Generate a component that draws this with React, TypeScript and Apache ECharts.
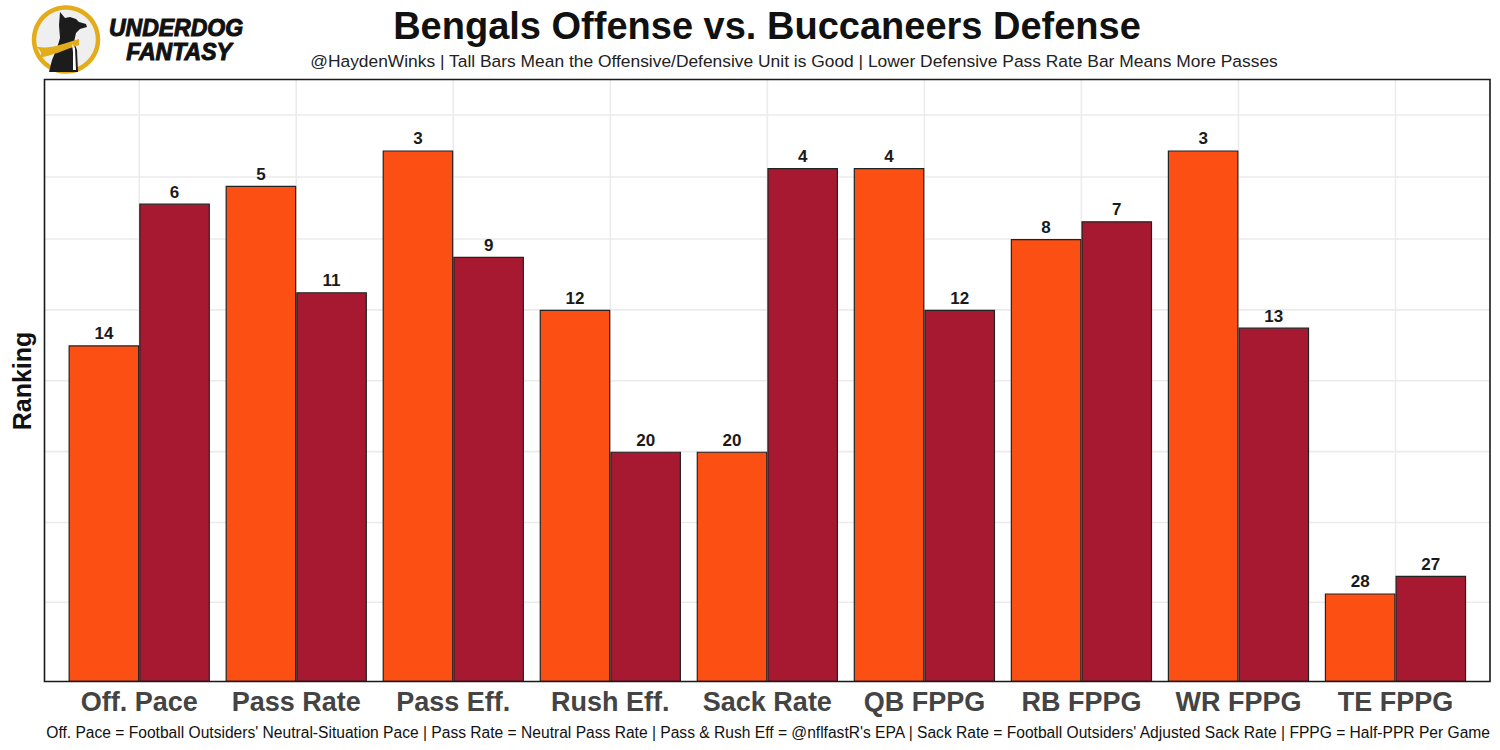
import React, { useEffect, useRef } from "react";
import * as echarts from "echarts";

const categories = ["Off. Pace", "Pass Rate", "Pass Eff.", "Rush Eff.", "Sack Rate", "QB FPPG", "RB FPPG", "WR FPPG", "TE FPPG"];
const offenseRank = [14, 5, 3, 12, 20, 4, 8, 3, 28];
const defenseRank = [6, 11, 9, 20, 4, 12, 7, 13, 27];
const gridLineValues = [4.5, 9, 13, 17, 21, 25, 28.5, 32];
const rankBase = 33;
const yMax = 34;

const titleText = "Bengals Offense vs. Buccaneers Defense";
const subtitleText = "@HaydenWinks | Tall Bars Mean the Offensive/Defensive Unit is Good | Lower Defensive Pass Rate Bar Means More Passes";
const captionText = "Off. Pace = Football Outsiders' Neutral-Situation Pace | Pass Rate = Neutral Pass Rate | Pass & Rush Eff = @nflfastR's EPA | Sack Rate = Football Outsiders' Adjusted Sack Rate | FPPG = Half-PPR Per Game";

const FONT = "'Liberation Sans', Arial, Helvetica, sans-serif";

const DOG_PATH = "M60,12 L65,18 L70,17 L76,19 L79,22 L86,24 L87,27 L80,29 L76,33 L74,42 L77,50 L78,72 L49,72 L52,60 L57,48 L60,38 L59,25 Z";
const SCARF_PATH = "M33,45 C45,51 60,45 79,39 L79,45 C64,50 52,56 38,58 C44,54 41,50 33,45 Z";
const CHEST_PATH = "M72,44 L75,48 L76,70 L73,70 L73,52 Z";

export default function App() {
  const ref = useRef<HTMLDivElement>(null);
  useEffect(() => {
    document.body.style.margin = "0";
    echarts.graphic.registerShape("dog", echarts.graphic.extendPath(DOG_PATH, {}));
    echarts.graphic.registerShape("scarf", echarts.graphic.extendPath(SCARF_PATH, {}));
    echarts.graphic.registerShape("chest", echarts.graphic.extendPath(CHEST_PATH, {}));
    const chart = echarts.init(ref.current!, null, { renderer: "svg" });

    const barLabel = (ranks: number[]) => ({
      show: true,
      position: "top",
      distance: 3,
      fontFamily: FONT,
      fontWeight: "bold",
      fontSize: 17,
      color: "#1a1a1a",
      formatter: (p: any) => String(ranks[p.dataIndex]),
    });

    const option: any = {
      animation: false,
      backgroundColor: "#ffffff",
      grid: { left: 60.7, right: 26, top: 79.5, bottom: 68, containLabel: false },
      xAxis: {
        type: "category",
        data: categories,
        axisLine: { show: false },
        axisTick: { show: false },
        splitLine: { show: false },
        axisLabel: { interval: 0, fontFamily: FONT, fontWeight: "bold", fontSize: 27, color: "#444444", margin: 6 },
      },
      yAxis: {
        type: "value",
        min: 0,
        max: yMax,
        axisLine: { show: false },
        axisTick: { show: false },
        axisLabel: { show: false },
        splitLine: { show: false },
      },
      series: [
        {
          type: "custom",
          name: "hgrid",
          silent: true,
          z: 0,
          data: gridLineValues.map((v) => [0, v]),
          encode: { x: 0, y: 1 },
          renderItem: (params: any, api: any) => {
            const cs = params.coordSys;
            const y = api.coord([0, api.value(1)])[1];
            const band = api.size([1, 0])[0];
            return {
              type: "line",
              shape: { x1: cs.x - 0.1 * band, y1: y, x2: cs.x + cs.width + 0.1 * band, y2: y },
              style: { stroke: "#ebebeb", lineWidth: 1.6 },
            };
          },
        },
        {
          type: "custom",
          name: "vgrid",
          silent: true,
          z: 0,
          data: categories.map((c, i) => [i, 0]),
          encode: { x: 0, y: 1 },
          renderItem: (params: any, api: any) => {
            const cs = params.coordSys;
            const x = api.coord([api.value(0), 0])[0];
            return {
              type: "line",
              shape: { x1: x, y1: cs.y, x2: x, y2: cs.y + cs.height },
              style: { stroke: "#ebebeb", lineWidth: 1.6 },
            };
          },
        },
        {
          type: "bar",
          name: "Offense",
          z: 2,
          barWidth: "45%",
          barGap: "0%",
          data: offenseRank.map((r) => rankBase - r),
          itemStyle: { color: "#FB4F14", borderColor: "#222222", borderWidth: 1.2 },
          label: barLabel(offenseRank),
        },
        {
          type: "bar",
          name: "Defense",
          z: 2,
          barWidth: "45%",
          barGap: "0%",
          data: defenseRank.map((r) => rankBase - r),
          itemStyle: { color: "#A71930", borderColor: "#222222", borderWidth: 1.2 },
          label: barLabel(defenseRank),
        },
      ],
      graphic: [
        {
          type: "rect",
          z: 100,
          silent: true,
          shape: { x: 44.5, y: 79.5, width: 1445.5, height: 602 },
          style: { fill: "none", stroke: "#1a1a1a", lineWidth: 1.6 },
        },
        {
          type: "text",
          x: 767,
          y: 26,
          style: { text: titleText, fontFamily: FONT, fontWeight: "bold", fontSize: 38, fill: "#111", textAlign: "center", textVerticalAlign: "middle" },
        },
        {
          type: "text",
          x: 794,
          y: 61,
          style: { text: subtitleText, fontFamily: FONT, fontSize: 17.4, fill: "#222", textAlign: "center", textVerticalAlign: "middle" },
        },
        {
          type: "text",
          x: 1490,
          y: 732,
          style: { text: captionText, fontFamily: FONT, fontSize: 15.6, fill: "#111", textAlign: "right", textVerticalAlign: "middle" },
        },
        {
          type: "text",
          x: 22,
          y: 381,
          rotation: Math.PI / 2,
          style: { text: "Ranking", fontFamily: FONT, fontWeight: "bold", fontSize: 25, fill: "#111", textAlign: "center", textVerticalAlign: "middle" },
        },
        {
          type: "circle",
          shape: { cx: 66, cy: 39.5, r: 32 },
          style: { fill: "#efefef", stroke: "#E3AC1A", lineWidth: 4.5 },
        },
        { type: "dog", x: 0, y: 0, style: { fill: "#1c1c1c" } },
        { type: "scarf", x: 0, y: 0, style: { fill: "#E3AC1A" } },
        { type: "chest", x: 0, y: 0, style: { fill: "#ffffff" } },
        {
          type: "text",
          x: 176,
          y: 28,
          style: { text: "UNDERDOG", fontFamily: FONT, fontWeight: "bold", fontStyle: "italic", fontSize: 23, fill: "#111", stroke: "#111", lineWidth: 1, textAlign: "center", textVerticalAlign: "middle" },
        },
        {
          type: "text",
          x: 179,
          y: 52,
          style: { text: "FANTASY", fontFamily: FONT, fontWeight: "bold", fontStyle: "italic", fontSize: 23, fill: "#111", stroke: "#111", lineWidth: 1, textAlign: "center", textVerticalAlign: "middle" },
        },
      ],
    };
    chart.setOption(option);
    return () => chart.dispose();
  }, []);
  return <div ref={ref} style={{ width: 1500, height: 750 }} />;
}
